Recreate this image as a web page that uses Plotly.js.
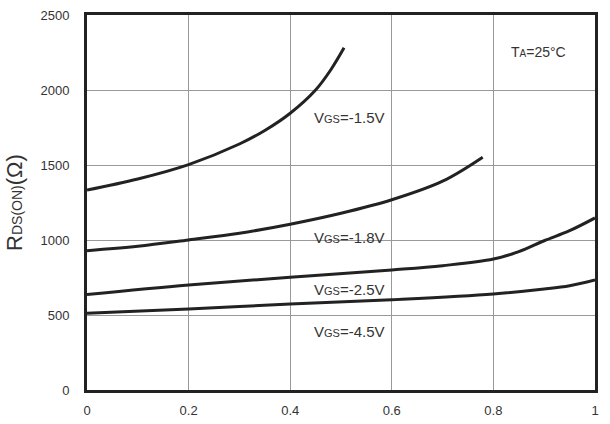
<!DOCTYPE html>
<html>
<head>
<meta charset="utf-8">
<script src="https://cdn.plot.ly/plotly-3.0.1.min.js"></script>
<style>html,body{margin:0;padding:0;background:#fff;}#chart{width:610px;height:424px;}</style>
</head>
<body>
<div id="chart"></div>
<script>
// Drain current (x) values and resistance (y) values for each gate voltage
const x15 = [0, 0.1, 0.2, 0.3, 0.35, 0.4, 0.45, 0.48, 0.506];
const y15 = [1333, 1407, 1503, 1640, 1730, 1845, 2000, 2135, 2281];

const x18 = [0, 0.1, 0.2, 0.3, 0.4, 0.5, 0.6, 0.7, 0.779];
const y18 = [929, 958, 1000, 1045, 1105, 1178, 1268, 1392, 1552];

const x25 = [0, 0.2, 0.4, 0.6, 0.7, 0.8, 0.85, 0.9, 0.95, 1.0];
const y25 = [636, 700, 751, 800, 829, 873, 922, 995, 1062, 1147];

const x45 = [0, 0.2, 0.4, 0.6, 0.8, 0.9, 0.95, 1.0];
const y45 = [511, 540, 573, 602, 640, 673, 695, 733];

const labelText = ['V<span style="font-size:11px">GS</span>=-1.5V',
                   'V<span style="font-size:11px">GS</span>=-1.8V',
                   'V<span style="font-size:11px">GS</span>=-2.5V',
                   'V<span style="font-size:11px">GS</span>=-4.5V'];
const labelX = [0.516, 0.516, 0.516, 0.516];
const labelY = [1818, 1018, 667, 389];

const xTicks = [0, 0.2, 0.4, 0.6, 0.8, 1];
const xTickText = ['0', '0.2', '0.4', '0.6', '0.8', '1'];
const yTicks = [0, 500, 1000, 1500, 2000, 2500];

const lineStyle = {color: '#222', width: 3, shape: 'spline', smoothing: 1};
const traces = [[x15, y15], [x18, y18], [x25, y25], [x45, y45]].map(d => ({
  x: d[0], y: d[1], type: 'scatter', mode: 'lines', line: lineStyle, hoverinfo: 'none'
}));

const annotations = labelText.map((t, i) => ({
  x: labelX[i], y: labelY[i], xref: 'x', yref: 'y', text: t, showarrow: false,
  font: {family: 'Liberation Sans, Arial, sans-serif', size: 15, color: '#333'}
}));
annotations.push({
  x: 0.888, y: 2251, xref: 'x', yref: 'y', showarrow: false,
  text: 'T<span style="font-size:10px">A</span>=25°C',
  font: {family: 'Liberation Sans, Arial, sans-serif', size: 14, color: '#333'}
});

const axisCommon = {
  showline: true, mirror: true, linewidth: 3, linecolor: '#222',
  showgrid: true, gridcolor: '#999', gridwidth: 1, zeroline: false,
  ticks: '', tickfont: {family: 'Liberation Sans, Arial, sans-serif', size: 13, color: '#333'}
};

const layout = {
  width: 610, height: 424,
  margin: {l: 87, r: 15, t: 15, b: 34},
  paper_bgcolor: '#fff', plot_bgcolor: '#fff',
  showlegend: false,
  xaxis: Object.assign({}, axisCommon, {range: [0, 1], tickvals: xTicks, ticktext: xTickText, ticklabelstandoff: 6}),
  yaxis: Object.assign({}, axisCommon, {range: [0, 2500], tickvals: yTicks, ticklabelstandoff: 12,
    title: {text: 'R<span style="font-size:14px">DS(ON)</span>(Ω)', standoff: 12,
            font: {family: 'Liberation Sans, Arial, sans-serif', size: 22, color: '#333'}}}),
  annotations: annotations
};

Plotly.newPlot('chart', traces, layout, {staticPlot: true, displayModeBar: false});
</script>
</body>
</html>
